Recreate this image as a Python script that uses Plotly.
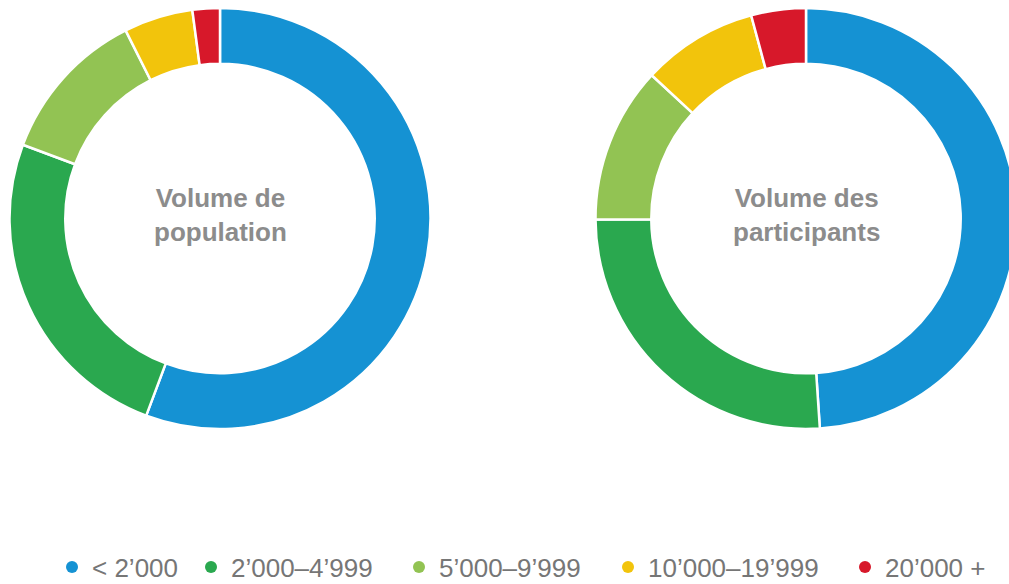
import plotly.graph_objects as go

categories = ["< 2\u2019000", "2\u2019000\u20134\u2019999", "5\u2019000\u20139\u2019999",
              "10\u2019000\u201319\u2019999", "20\u2019000 +"]
population_share = [55.7, 25.0, 11.9, 5.3, 2.1]
participants_share = [49.0, 26.0, 12.0, 8.9, 4.2]
colors = ["#1592d3", "#2aa84f", "#92c353", "#f2c40c", "#d7182a"]
center_titles = ["Volume de<br>population", "Volume des<br>participants"]

# figure is a little larger than the 1009x584 window; the window edge cuts the right ring
W, H = 1030, 610
OFF = 0  # page body margin removed in post_script

def px_x(v):
    return (v - OFF) / W

def px_y(v):
    return 1 - (v - OFF) / H

R = 210.5
left_c, right_c, cy = 220, 806, 218.5
left_dom_x = [px_x(left_c - R), px_x(left_c + R)]
right_dom_x = [px_x(right_c - R), min(1.0, px_x(right_c + R))]
dom_y = [max(0.0, px_y(cy + R)), min(1.0, px_y(cy - R))]

fig = go.Figure()
for vals, dom in [(population_share, left_dom_x), (participants_share, right_dom_x)]:
    fig.add_trace(go.Pie(
        labels=categories, values=vals, sort=False, direction="clockwise",
        rotation=0, hole=0.735, textinfo="none", hoverinfo="label+percent",
        marker=dict(colors=colors, line=dict(color="white", width=2.5)),
        domain=dict(x=dom, y=dom_y), showlegend=False,
    ))

legend_circle_x = [72, 211, 419, 628, 865]
legend_y = 567
legend_layout = {}
for i, (cat, col, lx) in enumerate(zip(categories, colors, legend_circle_x)):
    lname = "legend" if i == 0 else f"legend{i + 1}"
    fig.add_trace(go.Scatter(
        x=[None], y=[None], mode="markers", name=cat,
        marker=dict(symbol="circle", size=19, color=col),
        showlegend=True, legend=lname,
    ))
    legend_layout[lname] = dict(
        x=px_x(lx - 20), xanchor="left", y=px_y(legend_y), yanchor="middle",
        font=dict(family="Liberation Sans, Arial, sans-serif", size=26, color="#767676"),
        itemsizing="constant", bgcolor="rgba(0,0,0,0)", borderwidth=0,
    )

for cx, title in zip([left_c, right_c], center_titles):
    fig.add_annotation(
        x=px_x(cx), y=px_y(cy - 4), xref="paper", yref="paper", text="<b>" + title + "</b>",
        showarrow=False, xanchor="center", yanchor="middle",
        font=dict(family="Liberation Sans, Arial, sans-serif", size=26, color="#8c8c8c"),
        align="center",
    )

fig.update_layout(
    width=W, height=H,
    margin=dict(l=0, r=0, t=0, b=0),
    paper_bgcolor="white", plot_bgcolor="white",
    xaxis=dict(visible=False), yaxis=dict(visible=False),
    **legend_layout,
)

fig.write_html(
    "out.html",
    config={"displayModeBar": False},
    post_script=(
        "document.body.style.margin='0';"
        "document.documentElement.style.overflow='hidden';"
        "document.body.style.overflow='hidden';"
    ),
)
